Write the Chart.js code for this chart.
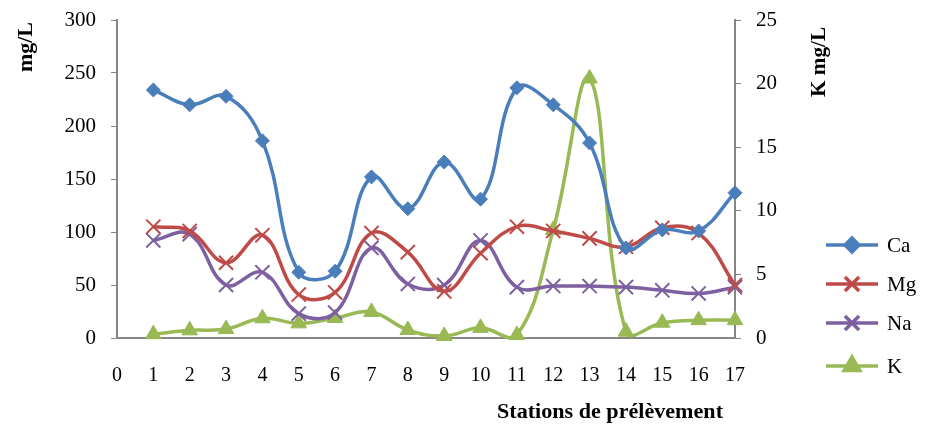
<!DOCTYPE html>
<html><head><meta charset="utf-8">
<script src="https://cdn.jsdelivr.net/npm/chart.js@4/dist/chart.umd.min.js"></script>
<style>html,body{margin:0;padding:0;background:#fff}#wrap{width:925px;height:427px}</style>
</head><body><div id="wrap"><canvas id="c" width="925" height="427"></canvas></div>
<script>
const stations = [1,2,3,4,5,6,7,8,9,10,11,12,13,14,15,16,17];
const xTicks = [0,1,2,3,4,5,6,7,8,9,10,11,12,13,14,15,16,17];
const leftTicks = [0,50,100,150,200,250,300];
const rightTicks = [0,5,10,15,20,25];
const ca = [234,220,228,186,62,63,152,122,166,131,236,220,184,85,102,101,137];
const mg = [105,101,71,97,41,43,99,81,44,80,105,101,94,86,104,99,50];
const na = [92,98,50,62,23,24,85,51,50,92,48,49,49,48,45,42,48];
const kVals = [0.3,0.6,0.7,1.55,1.15,1.57,2.05,0.63,0.16,0.8,0.24,8.5,20.4,0.5,1.2,1.4,1.4];
const seriesNames = ['Ca','Mg','Na','K'];

const FONT = '"Liberation Serif","Times New Roman",serif';
const AXIS = '#868686';
const colors = ['#4A7EBB','#BE4B48','#7D60A0','#98B954'];
const styles = ['rectRot','crossRot','crossRot','triangle'];
const radii = [7,10,10,9];

function pts(arr){ return stations.map((s,i)=>({x:s,y:arr[i]})); }
const allData = [ca,mg,na,kVals];

const datasets = allData.map((arr,i)=>({
  label: seriesNames[i],
  data: pts(arr),
  yAxisID: i===3 ? 'y2' : 'y',
  borderColor: colors[i],
  backgroundColor: colors[i],
  pointBackgroundColor: colors[i],
  pointBorderColor: colors[i],
  pointStyle: styles[i],
  pointRadius: radii[i],
  pointBorderWidth: (i===1||i===2)?2:1,
  borderWidth: 3.5,
  tension: 0.4,
  clip: false
}));

function fitText(ctx, txt, x, y, w){
  const m = ctx.measureText(txt).width;
  ctx.save(); ctx.translate(x,y); ctx.scale(w/m,1); ctx.fillText(txt,0,0); ctx.restore();
}

const overlay = {
  id:'overlay',
  afterDraw(chart){
    const ctx = chart.ctx;
    ctx.save();
    ctx.fillStyle = '#000';
    ctx.textAlign = 'center';
    ctx.textBaseline = 'middle';
    ctx.font = 'bold 21px ' + FONT;
    ctx.save(); ctx.translate(27,47); ctx.rotate(-Math.PI/2); fitText(ctx,'mg/L',0,0,50); ctx.restore();
    ctx.save(); ctx.translate(820,62); ctx.rotate(-Math.PI/2); fitText(ctx,'K mg/L',0,0,70); ctx.restore();
    ctx.font = 'bold 20px ' + FONT;
    fitText(ctx,'Stations de prélèvement',610,413,226);
    // legend
    const ys = [245,284,323,366];
    for(let i=0;i<4;i++){
      const y = ys[i];
      ctx.strokeStyle = colors[i]; ctx.lineWidth = 3.5;
      ctx.beginPath(); ctx.moveTo(826,y); ctx.lineTo(878,y); ctx.stroke();
      ctx.fillStyle = colors[i];
      Chart.helpers.drawPoint(ctx,{pointStyle:styles[i],radius:radii[i],borderWidth:(i===1||i===2)?2:1,rotation:0},852,y);
      ctx.fillStyle = '#000';
      ctx.textAlign = 'left';
      ctx.font = '21px ' + FONT;
      ctx.fillText(seriesNames[i],887,y+1);
    }
    ctx.restore();
  }
};

function noPadY(s, w){ s.width = w; s.paddingTop = 0; s.paddingBottom = 0; }

new Chart(document.getElementById('c'),{
  type:'line',
  data:{datasets},
  plugins:[overlay],
  options:{
    responsive:false,
    animation:false,
    elements:{line:{capBezierPoints:false}},
    layout:{padding:{left:0,right:120,top:20,bottom:0}},
    plugins:{legend:{display:false},tooltip:{enabled:false}},
    scales:{
      x:{
        type:'linear',min:0,max:17,
        afterBuildTicks(s){ s.ticks = xTicks.map(v=>({value:v})); },
        afterFit(s){ s.height = 89; s.paddingLeft = 0; s.paddingRight = 0; },
        grid:{display:false,drawTicks:false},
        border:{display:true,color:AXIS,width:2},
        ticks:{padding:26,color:'#000',font:{family:FONT,size:20},maxRotation:0,autoSkip:false}
      },
      y:{
        position:'left',min:0,max:300,
        afterBuildTicks(s){ s.ticks = leftTicks.map(v=>({value:v})); },
        afterFit(s){ noPadY(s,117); },
        grid:{display:true,drawOnChartArea:false,drawTicks:true,tickLength:6,color:AXIS,lineWidth:1},
        border:{display:true,color:AXIS,width:2},
        ticks:{padding:15,color:'#000',font:{family:FONT,size:21}}
      },
      y2:{
        position:'right',min:0,max:25,
        afterBuildTicks(s){ s.ticks = rightTicks.map(v=>({value:v})); },
        afterFit(s){ noPadY(s,70); },
        grid:{display:true,drawOnChartArea:false,drawTicks:true,tickLength:6,color:AXIS,lineWidth:1},
        border:{display:true,color:AXIS,width:2},
        ticks:{padding:15,color:'#000',font:{family:FONT,size:21}}
      }
    }
  }
});
</script>
</body></html>
